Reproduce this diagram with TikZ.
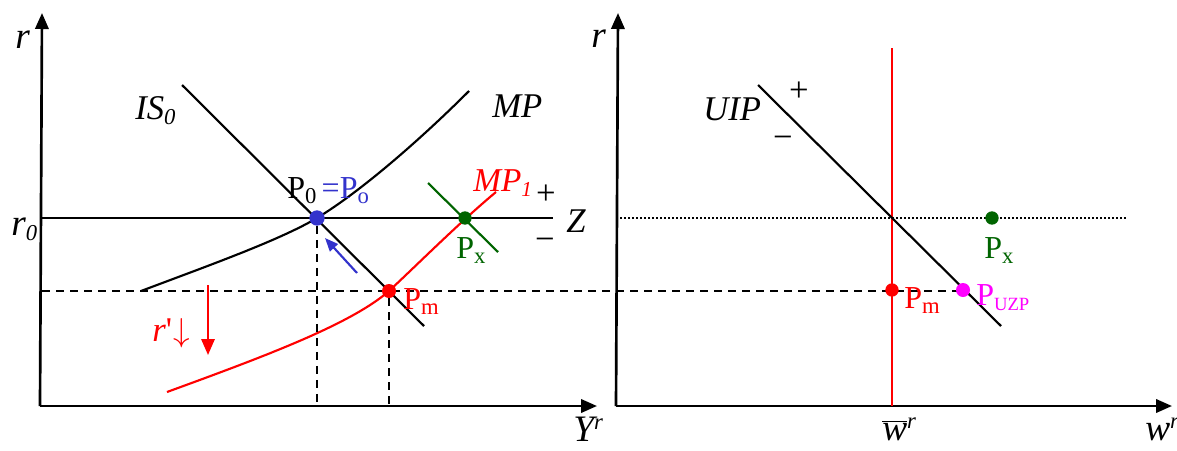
\documentclass[tikz,border=0pt]{standalone}
\usepackage{fontspec}
\setmainfont{Liberation Serif}
\usetikzlibrary{arrows.meta}
\newcommand\lo[2][17]{\raisebox{-4pt}{\fontsize{#1}{#1}\selectfont #2}}
\newcommand\hi[2][17]{\raisebox{9pt}{\fontsize{#1}{#1}\selectfont #2}}
\definecolor{pblue}{RGB}{51,51,204}
\definecolor{dgreen}{RGB}{0,100,0}
\definecolor{pmag}{RGB}{255,0,255}
\tikzset{
  axis/.style={line width=2pt, -{Triangle[length=12pt,width=10pt]}},
  curve/.style={line width=1.6pt},
  guide/.style={line width=1.4pt, dash pattern=on 6pt off 4.5pt},
  dotted line/.style={line width=1.3pt, dash pattern=on 1.3pt off 1.7pt},
  lbl/.style={inner sep=0pt, anchor=base west, font=\fontsize{24}{28}\selectfont},
  ilbl/.style={inner sep=0pt, anchor=base west, font=\fontsize{26}{30}\selectfont\itshape},
  albl/.style={inner sep=0pt, anchor=base west, font=\fontsize{28}{32}\selectfont\itshape},
  sgn/.style={inner sep=0pt, font=\fontsize{26}{30}\selectfont},
  dot/.style={circle, inner sep=0pt, minimum size=#1},
}
\begin{document}
\begin{tikzpicture}[x=0.75pt,y=-0.75pt]
\useasboundingbox (0,0) rectangle (1177,450);
% ---------- left panel ----------
\coordinate (O1) at (40,406);
\coordinate (Y1) at (42,13);
\coordinate (X1) at (597,406);
\draw[axis] (O1) -- (Y1);
\draw[axis] (O1) -- (X1);
\node[albl] (r1) at (15,48) {r};
\node[albl] (r0) at (11,235) {r\lo{\itshape 0}};
\node[albl] (Yr) at (573,441) {Y\hi{\itshape r}};

% guides
\coordinate (Zs) at (42,218);
\coordinate (Ze) at (553,218);
\coordinate (Ds) at (42,291);
\coordinate (De) at (963,291);
\coordinate (B0) at (317,406);
\coordinate (Bm) at (389,406);

\draw[guide] (Ds) -- (De);
\draw[curve] (Zs) -- (Ze);

% IS
\coordinate (IS1) at (182,85);
\coordinate (IS2) at (424,326);
\draw[curve] (IS1) -- (IS2);
% MP
\coordinate (MPa) at (141,291);
\coordinate (MPb) at (317,218);
\coordinate (MPc) at (469,91);
\draw[curve] (MPa) .. controls (210,265) and (280,240) .. (MPb)
             .. controls (360,192) and (420,140) .. (MPc);
% MP1
\coordinate (Ra) at (167,392);
\coordinate (Rb) at (389,291);
\coordinate (Rc) at (496,192);
\draw[red, curve] (Ra) .. controls (260,358) and (350,325) .. (Rb)
                  .. controls (420,262) and (460,222) .. (Rc);
% green line
\coordinate (G1) at (428,183);
\coordinate (G2) at (498,252);
\draw[dgreen, curve] (G1) -- (G2);

% dots
\node[dot=11.5pt, fill=pblue] (P0) at (317,218) {};
\node[dot=10.5pt, fill=red] (Pm) at (389,291) {};
\node[dot=10pt, fill=dgreen] (Px) at (465,218) {};

\draw[guide] (P0) -- (B0);
\draw[guide] (Pm) -- (Bm);

% arrows
\coordinate (BA1) at (357,273);
\coordinate (BA2) at (325,238);
\draw[pblue, line width=1.6pt, -{Triangle[length=10pt,width=8pt]}] (BA1) -- (BA2);
\coordinate (RA1) at (208,285);
\coordinate (RA2) at (208,355);
\draw[red, line width=1.6pt, -{Triangle[length=12pt,width=10pt]}] (RA1) -- (RA2);

% labels
\node[ilbl] (IS0) at (135,119) {IS\lo{\itshape 0}};
\node[ilbl] (MPl) at (492,117) {MP};
\node[ilbl, red, font=\fontsize{25}{30}\selectfont\itshape] (MP1l) at (473,191) {MP\lo[16]{\itshape 1}};
\node[lbl] (P0l) at (287,198) {P\lo{0}\,\textcolor{pblue}{=P\lo{o}}};
\node[lbl, red] (Pml) at (403,309) {P\lo{m}};
\node[lbl, dgreen] (Pxl) at (456,258) {P\lo{x}};
\node[ilbl] (Zl) at (566,232) {Z};
\node[sgn] (pl1) at (546,195) {+};
\node[sgn] (mi1) at (545,244) {−};
\node[ilbl, red] (rl) at (152,341) {r\upshape\textquotesingle\kern1pt$\downarrow$};

% ---------- right panel ----------
\coordinate (O2) at (616,406);
\coordinate (Y2) at (618,13);
\coordinate (X2) at (1172,406);
\draw[axis] (O2) -- (Y2);
\draw[axis] (O2) -- (X2);
\node[albl] (r2) at (591,47) {r};
\node[albl] (wr) at (1145,440) {w\hi{\itshape r}};
\node[albl] (wbar) at (882,440) {$\overline{\mbox{\itshape w}}$\hi{\itshape r}};

\coordinate (V1) at (892,48);
\coordinate (V2) at (892,406);
\draw[red, line width=1.1pt] (V1) -- (V2);

\coordinate (Dt1) at (620,218);
\coordinate (Dt2) at (1126,218);
\draw[dotted line] (Dt1) -- (Dt2);

\coordinate (U1) at (758,85);
\coordinate (U2) at (1001,326);
\draw[curve] (U1) -- (U2);

\node[dot=10pt, fill=red] (Pm2) at (892,290) {};
\node[dot=10.5pt, fill=pmag] (Puzp) at (963,290) {};
\node[dot=10pt, fill=dgreen] (Px2) at (992,218) {};

\node[ilbl] (UIPl) at (703,120) {UIP};
\node[sgn] (pl2) at (799,92) {+};
\node[sgn] (mi2) at (783,142) {−};
\node[lbl, dgreen] (Px2l) at (984,258) {P\lo{x}};
\node[lbl, red] (Pm2l) at (904,308) {P\lo{m}};
\node[lbl, pmag] (Puzpl) at (976,305) {P\lo[14]{UZP}};
\end{tikzpicture}
\end{document}
